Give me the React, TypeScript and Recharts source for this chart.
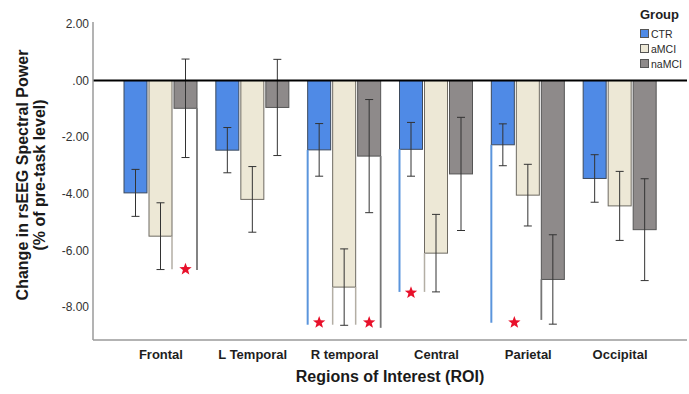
import React from "react";
import { BarChart, Bar, XAxis, YAxis, ReferenceLine, ErrorBar } from "recharts";

// regions of interest on the x axis
const regions = ["Frontal", "L Temporal", "R temporal", "Central", "Parietal", "Occipital"];

// mean change per group (% of pre-task level)
const ctrValues = [-3.97, -2.46, -2.45, -2.43, -2.27, -3.46];
const amciValues = [-5.5, -4.2, -7.3, -6.1, -4.05, -4.43];
const namciValues = [-0.98, -0.95, -2.67, -3.3, -7.03, -5.27];

// error bar half-widths
const ctrErrors = [0.83, 0.8, 0.93, 0.95, 0.74, 0.84];
const amciErrors = [1.18, 1.16, 1.35, 1.37, 1.09, 1.22];
const namciErrors = [1.74, 1.7, 2.0, 2.0, 1.58, 1.8];

// stray edge lines below some bars (value where they end)
const ctrExtends = [null, null, -8.63, -7.47, -8.56, null];
const amciExtends = [-6.67, null, -8.63, -7.47, null, null];
const namciExtends = [-6.7, null, -8.74, null, -8.46, null];
const ctrSides = ["left", "left", "left", "left", "left", "left"];
const amciSides = ["right", null, "both", "left", null, null];
const namciSides = ["right", null, "right", null, "left", null];

// significance stars (value where they sit)
const ctrStars = [null, null, -8.55, -7.5, -8.55, null];
const namciStars = [-6.67, null, -8.55, null, null, null];
const ctrStarAtEdge = [false, false, false, false, true, false];

const yTicks = [2, 0, -2, -4, -6, -8];

const series = [
  { key: "ctr", name: "CTR", fill: "#4f8ae6", stroke: "#3d4a5c", ext: "#5b95dc", extWidth: 2 },
  { key: "amci", name: "aMCI", fill: "#ede8d6", stroke: "#6e6a62", ext: "#b3aea4", extWidth: 1.5 },
  { key: "namci", name: "naMCI", fill: "#8e8a8a", stroke: "#555555", ext: "#767676", extWidth: 1.8 },
];

const data = regions.map((region, i) => ({
  region,
  ctr: ctrValues[i],
  amci: amciValues[i],
  namci: namciValues[i],
  ctrErr: ctrErrors[i],
  amciErr: amciErrors[i],
  namciErr: namciErrors[i],
  ctrExt: ctrExtends[i],
  amciExt: amciExtends[i],
  namciExt: namciExtends[i],
  ctrSide: ctrSides[i],
  amciSide: amciSides[i],
  namciSide: namciSides[i],
  ctrStar: ctrStars[i],
  amciStar: null,
  namciStar: namciStars[i],
  ctrStarEdge: ctrStarAtEdge[i],
}));

const FONT = "'Liberation Sans', Arial, sans-serif";

function starPoints(cx: number, cy: number, R: number, r: number) {
  const pts: string[] = [];
  for (let k = 0; k < 10; k++) {
    const rad = k % 2 === 0 ? R : r;
    const a = -Math.PI / 2 + (k * Math.PI) / 5;
    pts.push(`${cx + rad * Math.cos(a)},${cy + rad * Math.sin(a)}`);
  }
  return pts.join(" ");
}

const makeShape = (s: (typeof series)[number]) => (props: any) => {
  const { x, y, width, height, payload } = props;
  const value = payload[s.key];
  const top = Math.min(y, y + height);
  const bottom = Math.max(y, y + height);
  const zeroY = value < 0 ? top : bottom;
  const ppu = Math.abs(value) > 0 ? (bottom - top) / Math.abs(value) : 0;
  const toY = (v: number) => zeroY - v * ppu;
  const ext = payload[s.key + "Ext"];
  const side = payload[s.key + "Side"];
  const star = payload[s.key + "Star"];
  const starX = payload[s.key + "StarEdge"] ? x + width : x + width / 2;
  return (
    <g>
      <rect x={x} y={top} width={width} height={bottom - top} fill={s.fill} stroke={s.stroke} strokeWidth={1} />
      {ext != null && (side === "left" || side === "both") && (
        <line x1={x} x2={x} y1={bottom} y2={toY(ext)} stroke={s.ext} strokeWidth={s.extWidth} />
      )}
      {ext != null && (side === "right" || side === "both") && (
        <line x1={x + width} x2={x + width} y1={bottom} y2={toY(ext)} stroke={s.ext} strokeWidth={s.extWidth} />
      )}
      {star != null && <polygon points={starPoints(starX, toY(star), 6.5, 2.7)} fill="#e8102a" />}
    </g>
  );
};

const YTitle = (props: any) => {
  const vb = props.viewBox;
  const cy = vb.y + vb.height / 2 - 6;
  const x1 = vb.x + 22;
  const x2 = vb.x + 39;
  return (
    <g fontFamily={FONT} fontWeight="bold" fontSize={16} fill="#1a1a1a">
      <text x={x1} y={cy} transform={`rotate(-90, ${x1}, ${cy})`} textAnchor="middle" dominantBaseline="central">
        Change in rsEEG Spectral Power
      </text>
      <text x={x2} y={cy} transform={`rotate(-90, ${x2}, ${cy})`} textAnchor="middle" dominantBaseline="central">
        (% of pre-task level)
      </text>
    </g>
  );
};

const XTitle = (props: any) => {
  const vb = props.viewBox;
  return (
    <text x={vb.x + vb.width / 2} y={vb.y + 42} textAnchor="middle" fontFamily={FONT} fontWeight="bold" fontSize={16} fill="#1a1a1a">
      Regions of Interest (ROI)
    </text>
  );
};

const formatY = (v: number) => (v === 0 ? ".00" : v.toFixed(2));

export default function App() {
  return (
    <div style={{ position: "absolute", left: 0, top: 0, width: 689, height: 394, background: "#fff" }}>
      <BarChart
        width={689}
        height={394}
        data={data}
        margin={{ top: 22, right: 2, left: 0, bottom: 0 }}
        barSize={23}
        barGap={2}
      >
        <XAxis
          dataKey="region"
          height={54}
          padding={{ left: 22, right: 21 }}
          tickLine={false}
          tickSize={0}
          tickMargin={10}
          axisLine={{ stroke: "#9a9a9a", strokeWidth: 1.5 }}
          tick={{ fontSize: 13, fontWeight: "bold", fill: "#1e1e1e", fontFamily: FONT }}
          interval={0}
          label={{ content: XTitle }}
        />
        <YAxis
          width={93}
          domain={[-9.17, 2.07]}
          allowDataOverflow
          ticks={yTicks}
          tickFormatter={formatY}
          tickLine={false}
          tickSize={0}
          tickMargin={4}
          axisLine={{ stroke: "#9a9a9a", strokeWidth: 1.5 }}
          tick={{ fontSize: 12, fill: "#333", fontFamily: FONT }}
          label={{ content: YTitle }}
        />
        {series.map((s) => (
          <Bar key={s.key} dataKey={s.key} name={s.name} fill={s.fill} shape={makeShape(s)} isAnimationActive={false}>
            <ErrorBar dataKey={s.key + "Err"} width={4} stroke="#333" strokeWidth={1} />
          </Bar>
        ))}
        <ReferenceLine y={0} stroke="#000" strokeWidth={2} />
      </BarChart>
      <div style={{ position: "absolute", left: 640, top: 5, fontFamily: FONT, color: "#2a2a2a" }}>
        <div style={{ height: 21, fontSize: 13, fontWeight: "bold", lineHeight: "19px", color: "#1e1e1e" }}>Group</div>
        {series.map((s) => (
          <div key={s.key} style={{ display: "flex", alignItems: "center", height: 15, fontSize: 10.5 }}>
            <span
              style={{
                display: "inline-block",
                width: 7,
                height: 7,
                background: s.fill,
                border: "1px solid #555",
                marginRight: 2,
              }}
            />
            {s.name}
          </div>
        ))}
      </div>
    </div>
  );
}
